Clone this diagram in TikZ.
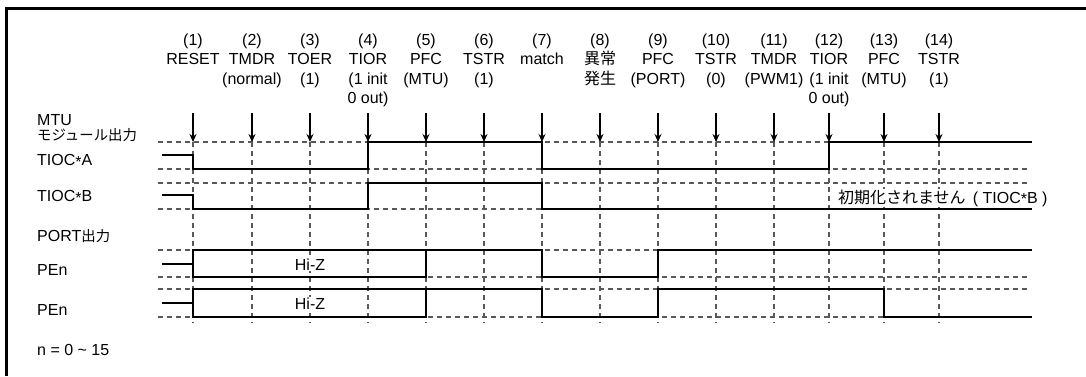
\documentclass[tikz,border=0pt]{standalone}
\usepackage{fontspec}
\setmainfont{Liberation Sans}
\newfontfamily\jp[Scale=0.9]{Noto Sans CJK JP}
\newfontfamily\jpwide{Noto Sans CJK JP}
\usetikzlibrary{arrows.meta}

\newcommand\lblfont{\fontsize{16}{19.3}\selectfont}
\newcommand\tstar{\raisebox{-1.5pt}{*}}

\begin{document}
\begin{tikzpicture}[
  x=1pt, y=-1pt,
  sig/.style={line width=2.4pt, line join=miter},
  guide/.style={dashed, dash pattern=on 5pt off 4pt, line width=1.1pt, black!65},
  trig/.style={-{Stealth[length=8pt, width=7pt]}, line width=1.1pt},
  evlabel/.style={align=center, anchor=north, inner sep=0pt, font=\lblfont},
  rowlabel/.style={anchor=base west, inner sep=0pt, font=\lblfont}
]
\useasboundingbox (0,0) rectangle (1086,376);

% frame (open at right and bottom)
\draw[line width=2.7pt] (1086,8.7) -- (6.3,8.7) -- (6.3,376);

% level guides
\foreach \lv in {142,169,183,209,250,277,289,317}
  \draw[guide] (158,\lv) -- (1027,\lv);

% events: number, position, register
\foreach \n/\x/\txt in {1/193/{RESET}, 2/252/{TMDR\\(normal)}, 3/310/{TOER\\(1)},
    4/368/{TIOR\\(1 init\\0 out)}, 5/426/{PFC\\(MTU)}, 6/484/{TSTR\\(1)},
    7/542/{match}, 8/600/{{\jpwide 異常}\\{\jpwide 発生}}, 9/658/{PFC\\(PORT)},
    10/716/{TSTR\\(0)}, 11/774/{TMDR\\(PWM1)}, 12/829/{TIOR\\(1 init\\0 out)},
    13/884/{PFC\\(MTU)}, 14/939/{TSTR\\(1)}} {
  \node[evlabel] (lb\n) at (\x,33.8) {(\n)\\\txt};
  \coordinate (tp\n) at (\x,113);
  \coordinate (ev\n) at (\x,142);
  \coordinate (bt\n) at (\x,323);
  \draw[guide] (ev\n) -- (bt\n);
  \draw[trig] (tp\n) -- (ev\n);
}

% row labels
\node[rowlabel] (mtu) at (37,125) {MTU};
\node[rowlabel] (mtuout) at (37,140) {\jp モジュール出力};
\node[rowlabel] (tioca) at (37,165.5) {TIOC\tstar A};
\node[rowlabel] (tiocb) at (37,201.7) {TIOC\tstar B};
\node[rowlabel] (port) at (37,241.5) {PORT{\jp 出力}};
\node[rowlabel] (pen1) at (37,275) {PEn};
\node[rowlabel] (pen2) at (37,315) {PEn};
\node[rowlabel] (note) at (37,355) {n = 0 \textasciitilde\ 15};

% TIOC*A
\draw[sig] (162,155) -- (193,155) -- (193,169) -- (368,169) -- (368,142)
  -- (542,142) -- (542,169) -- (829,169) -- (829,142) -- (1032,142);
% TIOC*B
\draw[sig] (162,195) -- (193,195) -- (193,209) -- (368,209) -- (368,183)
  -- (542,183) -- (542,209) -- (1032,209);
\node[rowlabel, fill=white, inner ysep=1pt] (noinit) at (838,203)
  {{\jpwide 初期化されません}\ \,(\ TIOC\tstar B\ )};

% PEn (1)
\draw[sig] (162,264) -- (193,264);
\draw[sig] (193,250) rectangle (426,277);
\draw[sig] (426,250) -- (542,250) -- (542,277) -- (658,277) -- (658,250) -- (1032,250);
\node[rowlabel, anchor=base, fill=white, inner sep=1pt] (hiz1) at (310,270) {Hi-Z};

% PEn (2)
\draw[sig] (162,303) -- (193,303);
\draw[sig] (193,289) rectangle (426,317);
\draw[sig] (426,289) -- (542,289) -- (542,317) -- (658,317) -- (658,289)
  -- (884,289) -- (884,317) -- (1032,317);
\node[rowlabel, anchor=base, fill=white, inner sep=1pt] (hiz2) at (310,309.5) {Hi-Z};
\end{tikzpicture}
\end{document}
